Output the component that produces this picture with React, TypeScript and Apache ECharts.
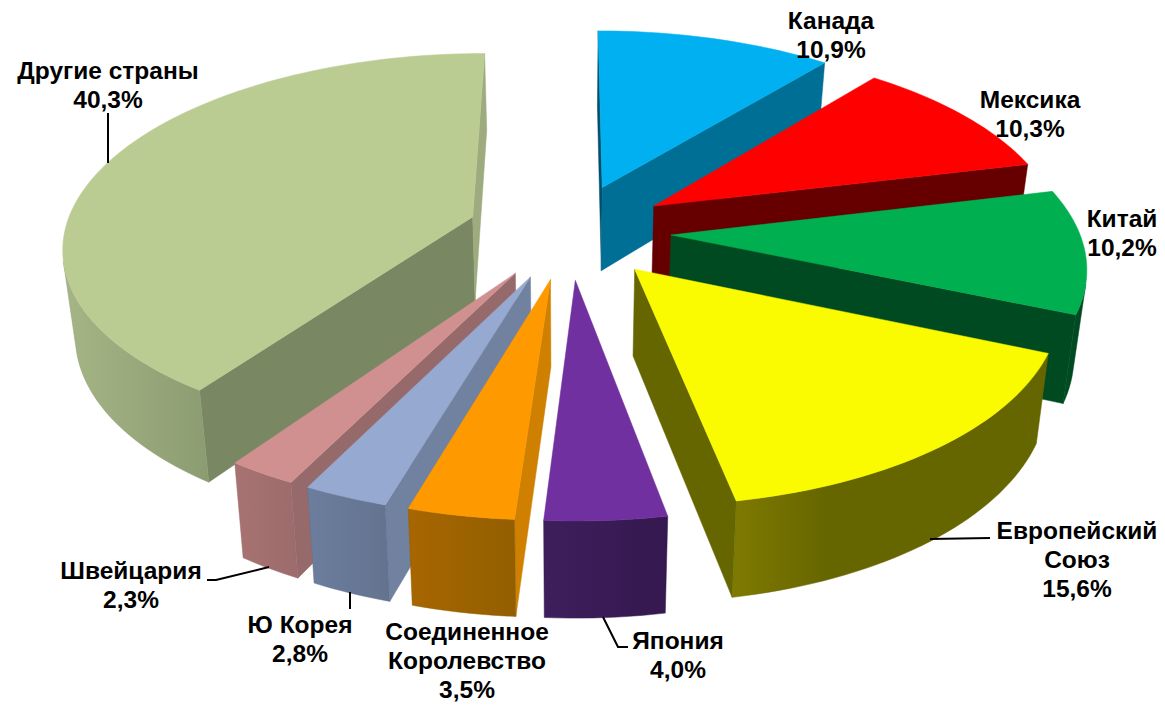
import React, { useEffect, useRef } from "react";
import * as echarts from "echarts";

const categories = ["Канада", "Мексика", "Китай", "Европейский\nСоюз", "Япония", "Соединенное\nКоролевство", "Ю Корея", "Швейцария", "Другие страны"];
const shares = [10.9, 10.3, 10.2, 15.6, 4.0, 3.5, 2.8, 2.3, 40.3];
const topColors = ["#00B0F0", "#FF0000", "#00B050", "#FAFA00", "#7030A0", "#FF9900", "#95A9D1", "#D09090", "#BBCC93"];
const startWallColors = ["#004F6B", "#500000", "#003A1A", "#666600", "#35184F", "#D08000", "#70829F", "#966A6A", "#7A8763"];
const endWallColors = ["#006F96", "#660000", "#004A21", "#666600", "#35184F", "#A86600", "#63738F", "#9C6B6B", "#9DAB7F"];
const curveFrom = ["#006F96", "#660000", "#004A21", "#7F7A00", "#3E1E5C", "#A86600", "#6C7D9E", "#A87272", "#A6B585"];
const curveTo = ["#006F96", "#660000", "#004A21", "#666600", "#35184F", "#925F00", "#63738F", "#9C6B6B", "#8C9C72"];
const curveEndStop = [1, 1, 1, 0.3, 1, 1, 1, 1, 1];
const paintOrder = [8, 0, 1, 2, 7, 6, 5, 4, 3];

const labelCenters = [[831, 35], [1030, 114], [1122, 233], [1077, 559], [678, 655], [467, 660], [300, 639], [131, 585], [108, 85]];
const leaderLines = [
  [[108, 113], [108, 163]],
  [[930, 539], [990, 538]],
  [[603, 617], [618, 647], [628, 647]],
  [[350, 592], [350, 609]],
  [[207, 580], [216, 580], [269, 567]],
];

const CX = 569, CY = 231, A = 408, B = 190.6, K = 0.143, H = 85, K2 = 0.1, BOTTOM_SCALE = 0.975, EXPLODE = 0.25;
const rad = (d: number) => (d * Math.PI) / 180;

function project(x: number, y: number, bottom: boolean): number[] {
  const w = 1 + K * y;
  let X = CX + (A * x) / w;
  let Y = CY - (B * y) / w;
  if (bottom) {
    X = CX + (X - CX) * BOTTOM_SCALE;
    Y += H / (1 + K2 * y);
  }
  return [X, Y];
}

function shoelace(p: number[][]) {
  let s = 0;
  for (let i = 0; i < p.length; i++) {
    const a = p[i], b = p[(i + 1) % p.length];
    s += a[0] * b[1] - b[0] * a[1];
  }
  return s;
}

function curveStroke(g: any) {
  return g.colorStops[g.colorStops.length - 1].color;
}

function poly(points: number[][], fill: any, z2: number) {
  return {
    type: "polygon",
    z2,
    shape: { points },
    style: { fill, stroke: typeof fill === "string" ? fill : curveStroke(fill), lineWidth: 0.5 },
  };
}

const total = shares.reduce((a, b) => a + b, 0);

function renderSlice(_: any, api: any) {
  const idx = api.value(0) as number;
  const before = shares.slice(0, idx).reduce((a, b) => a + b, 0);
  const a0 = (before / total) * 360;
  const a1 = a0 + (api.value(1) / total) * 360;
  const mid = rad((a0 + a1) / 2);
  const ox = EXPLODE * Math.sin(mid), oy = EXPLODE * Math.cos(mid);
  const steps = Math.max(8, Math.ceil((a1 - a0) / 1.5));
  const rim: number[][] = [];
  for (let i = 0; i <= steps; i++) {
    const t = rad(a0 + ((a1 - a0) * i) / steps);
    rim.push([ox + Math.sin(t), oy + Math.cos(t)]);
  }
  const rank = paintOrder.indexOf(idx) * 10;
  const quad = (a: number[], b: number[]) => [project(a[0], a[1], false), project(b[0], b[1], false), project(b[0], b[1], true), project(a[0], a[1], true)];
  const apex = [ox, oy];
  const children: any[] = [];

  const startQ = quad(apex, rim[0]);
  if (shoelace(startQ) < 0) children.push(poly(startQ, startWallColors[idx], rank + 1));
  const endQ = quad(rim[steps], apex);
  if (shoelace(endQ) < 0) children.push(poly(endQ, endWallColors[idx], rank + 1));

  let run: number[][] = [];
  const flush = () => {
    if (run.length > 1) {
      const pts = [...run.map((p) => project(p[0], p[1], false)), ...run.slice().reverse().map((p) => project(p[0], p[1], true))];
      children.push(
        poly(
          pts,
          new echarts.graphic.LinearGradient(0, 0, 1, 0, [
            { offset: 0, color: curveFrom[idx] },
            { offset: curveEndStop[idx], color: curveTo[idx] },
            { offset: 1, color: curveTo[idx] },
          ]),
          rank + 2
        )
      );
    }
    run = [];
  };
  for (let i = 0; i < steps; i++) {
    if (shoelace(quad(rim[i], rim[i + 1])) < 0) {
      if (!run.length) run.push(rim[i]);
      run.push(rim[i + 1]);
    } else flush();
  }
  flush();

  const top = [project(apex[0], apex[1], false), ...rim.map((p) => project(p[0], p[1], false))];
  children.push(poly(top, topColors[idx], rank + 3));
  return { type: "group", children };
}

const fmt = (v: number) => v.toFixed(1).replace(".", ",") + "%";

export default function App() {
  const ref = useRef<HTMLDivElement>(null);
  useEffect(() => {
    document.body.style.margin = "0";
    const chart = echarts.init(ref.current!, null, { renderer: "svg" });
    const texts = categories.map((c, i) => ({
      type: "text",
      x: labelCenters[i][0],
      y: labelCenters[i][1],
      z: 10,
      silent: true,
      style: {
        text: c + "\n" + fmt(shares[i]),
        fill: "#000",
        font: 'bold 24.5px "Liberation Sans", Arial, sans-serif',
        lineHeight: 29,
        align: "center",
        verticalAlign: "middle",
      },
    }));
    const lines = leaderLines.map((pts) => ({
      type: "polyline",
      z: 10,
      silent: true,
      shape: { points: pts },
      style: { stroke: "#000", lineWidth: 2, fill: "none" },
    }));
    chart.setOption({
      animation: false,
      backgroundColor: "#fff",
      series: [
        {
          type: "custom",
          coordinateSystem: "none",
          silent: true,
          renderItem: renderSlice,
          data: paintOrder.map((i) => [i, shares[i]]),
        },
      ],
      graphic: { elements: [...lines, ...texts] },
    });
    return () => chart.dispose();
  }, []);
  return <div ref={ref} style={{ position: "absolute", left: 0, top: 0, width: 1165, height: 705 }} />;
}
